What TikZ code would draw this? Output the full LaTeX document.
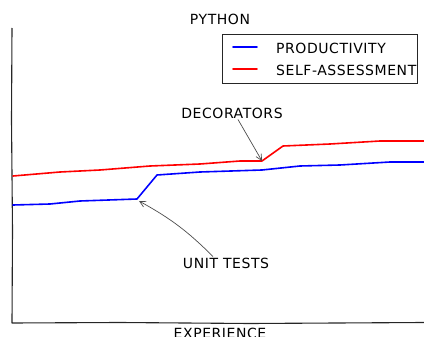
\documentclass[tikz,border=0pt]{standalone}
\usepackage{fontspec}
\setmainfont{DejaVu Sans}
\usetikzlibrary{arrows.meta}
\tikzset{
  hand/.style={font=\fontsize{14}{16}\selectfont\addfontfeature{LetterSpace=4}, inner sep=1pt},
  axisline/.style={black!85, line width=1.1pt, line join=round},
  curve/.style={line width=1.6pt, line join=round, line cap=round},
  pointer/.style={-{Straight Barb[length=6pt,width=6pt]}, black!70, line width=0.7pt}
}
\begin{document}
\begin{tikzpicture}[x=1pt, y=-1pt]
        \useasboundingbox (0,0) rectangle (424,337);
        % axes
        \draw[axisline] (12,28) -- (11.5,120) -- (12.5,230) -- (12,323) -- (120,322.5) -- (250,323.5) -- (424,322.5);
        % the two curves
        \draw[curve, red] (13,176) -- (60,172) -- (100,170) -- (150,166) -- (200,164) -- (240,161) -- (262,161) coordinate (redkink) -- (283,146) -- (330,144) -- (380,141) -- (424,141);
        \draw[curve, blue] (13,205) -- (50,204) -- (80,201) -- (137,199) coordinate (bluekink) -- (157,175) -- (200,172) -- (262,170) -- (300,166) -- (340,165) -- (390,162) -- (424,162);
        % labels
        \node[hand] (title) at (220,19) {PYTHON};
        \node[hand] (deco) at (232,113) {DECORATORS};
        \node[hand] (unit) at (226,263) {UNIT TESTS};
        \node[hand] (xlabel) at (220,333) {EXPERIENCE};
        % annotations
        \draw[pointer] ([xshift=6pt]deco.south) -- (redkink);
        \draw[pointer] ([xshift=-13pt]unit.north) to[bend right=8] ([xshift=2pt,yshift=-2pt]bluekink);
        % legend
        \draw[black!85, line width=0.8pt] (222,34) rectangle (417,83);
        \draw[curve, blue] (233,47) -- (257,47);
        \draw[curve, red] (233,69) -- (257,69);
        \node[hand, anchor=west] (prod) at (275,48) {PRODUCTIVITY};
        \node[hand, anchor=west] (self) at (275,70) {SELF-ASSESSMENT};
\end{tikzpicture}
\end{document}
